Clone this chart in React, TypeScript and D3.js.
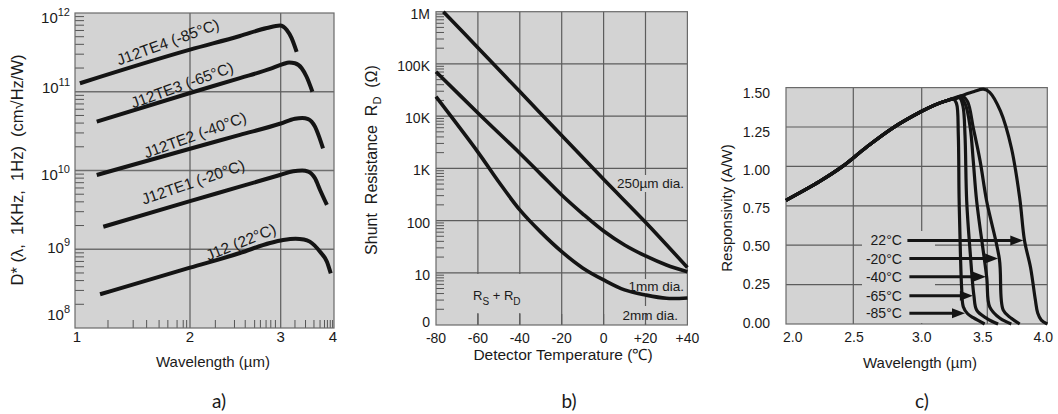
import React from "react";
import * as d3 from "d3";

type P = [number, number];

// ================= DATA =================
// ---- Panel a: D* vs wavelength (log-log) ----
const aXTickValues = [1, 2, 3, 4];
const aXMinorTicks = [
  1.22, 1.42, 1.54, 1.66, 1.75, 1.85, 1.92, 1.96,
  2.24, 2.44, 2.56, 2.67, 2.74, 2.81, 2.87, 2.93,
  3.24, 3.43, 3.59, 3.71, 3.8, 3.86, 3.92, 3.97,
];
const aYDecades = [1e8, 1e9, 1e10, 1e11, 1e12];
const aYExponents = ["8", "9", "10", "11", "12"];
const aSeriesNames = ["J12TE4 (-85°C)", "J12TE3 (-65°C)", "J12TE2 (-40°C)", "J12TE1 (-20°C)", "J12 (22°C)"];
const aJ12TE4: P[] = [[1.03, 1.28e11], [2.0, 3.42e11], [2.5, 5.1e11], [2.82, 6.45e11], [2.99, 6.93e11], [3.1, 6.08e11], [3.18, 4.82e11], [3.27, 3.2e11]];
const aJ12TE3: P[] = [[1.14, 4.17e10], [2.0, 9.64e10], [2.5, 1.49e11], [2.86, 1.95e11], [3.04, 2.25e11], [3.14, 2.35e11], [3.24, 2.3e11], [3.36, 1.99e11], [3.45, 1.55e11], [3.56, 1.0e11]];
const aJ12TE2: P[] = [[1.14, 8.77e9], [2.0, 1.89e10], [2.5, 2.83e10], [3.0, 3.95e10], [3.24, 4.55e10], [3.37, 4.65e10], [3.48, 4.5e10], [3.61, 3.6e10], [3.69, 2.69e10], [3.77, 1.91e10]];
const aJ12TE1: P[] = [[1.186, 1.93e9], [2.0, 4.09e9], [2.5, 6.23e9], [2.99, 8.77e9], [3.21, 9.8e9], [3.37, 1.0e10], [3.48, 9.7e9], [3.61, 7.96e9], [3.71, 5.65e9], [3.85, 3.65e9]];
const aJ12: P[] = [[1.163, 2.68e8], [2.0, 5.83e8], [2.5, 8.96e8], [2.86, 1.2e9], [3.04, 1.31e9], [3.25, 1.36e9], [3.4, 1.33e9], [3.51, 1.25e9], [3.71, 9.3e8], [3.85, 6.95e8], [3.93, 4.95e8]];
const aSeries = [aJ12TE4, aJ12TE3, aJ12TE2, aJ12TE1, aJ12];

// ---- Panel b: shunt resistance vs temperature ----
const bXTickValues = [-80, -60, -40, -20, 0, 20, 40];
const bXTickLabels = ["-80", "-60", "-40", "-20", "0", "+20", "+40"];
const bYTickValues = [1, 10, 100, 1e3, 1e4, 1e5, 1e6];
const bYTickLabels = ["0", "10", "100", "1K", "10K", "100K", "1M"];
const bNames = ["250µm dia.", "1mm dia.", "2mm dia."];
const b250um: P[] = [[-76.5, 1e6], [-60, 2.04e5], [-40, 2.95e4], [-20, 4.27e3], [0, 617], [20, 93], [40, 12.6]];
const b1mm: P[] = [[-80, 7.1e4], [-60, 1.15e4], [-40, 1.95e3], [-30, 776], [-20, 309], [-10, 135], [0, 63], [10, 34], [20, 21], [30, 14.1], [40, 10.5]];
const b2mm: P[] = [[-80, 2.36e4], [-60, 2.05e3], [-50, 548], [-40, 160], [-30, 60], [-20, 25.4], [-10, 12.4], [0, 7.3], [10, 4.7], [20, 3.76], [30, 3.25], [40, 3.3]];
const bSeries = [b250um, b1mm, b2mm];

// ---- Panel c: responsivity vs wavelength ----
const cXTickValues = [2.0, 2.5, 3.0, 3.5, 4.0];
const cXTickLabels = ["2.0", "2.5", "3.0", "3.5", "4.0"];
const cYTickValues = [0, 0.25, 0.5, 0.75, 1.0, 1.25, 1.5];
const cYTickLabels = ["0.00", "0.25", "0.50", "0.75", "1.00", "1.25", "1.50"];
const cRise: P[] = [[2.0, 0.785], [2.25, 0.905], [2.42, 1.0], [2.6, 1.125], [2.79, 1.245], [3.0, 1.35], [3.1, 1.39], [3.2, 1.42]];
const c22: P[] = [[3.3, 1.448], [3.4, 1.475], [3.47, 1.49], [3.52, 1.47], [3.61, 1.35], [3.7, 1.12], [3.77, 0.8], [3.81, 0.53], [3.86, 0.36], [3.9, 0.155], [3.92, 0.07], [3.95, 0.025], [4.0, 0.0]];
const cM20: P[] = [[3.26, 1.432], [3.31, 1.445], [3.35, 1.41], [3.393, 1.245], [3.445, 1.035], [3.495, 0.78], [3.6, 0.415], [3.633, 0.088], [3.7, 0.036], [3.77, 0.0]];
const cM40: P[] = [[3.25, 1.43], [3.29, 1.44], [3.33, 1.4], [3.37, 1.245], [3.393, 1.035], [3.419, 0.78], [3.495, 0.3], [3.52, 0.109], [3.606, 0.036], [3.7, 0.0]];
const cM65: P[] = [[3.25, 1.43], [3.29, 1.435], [3.315, 1.38], [3.33, 1.2], [3.343, 0.78], [3.37, 0.45], [3.398, 0.18], [3.419, 0.088], [3.495, 0.036], [3.59, 0.0]];
const cM85: P[] = [[3.24, 1.428], [3.265, 1.4], [3.279, 1.2], [3.285, 0.8], [3.295, 0.45], [3.305, 0.22], [3.317, 0.11], [3.35, 0.065], [3.393, 0.04], [3.48, 0.0]];
const cTails = [c22, cM20, cM40, cM65, cM85];
const cArrowLabels = ["22°C", "-20°C", "-40°C", "-65°C", "-85°C"];
const cArrowLevel = [0.53, 0.415, 0.3, 0.18, 0.068];
const cArrowTip = [3.8, 3.59, 3.49, 3.39, 3.33];

// ================= LAYOUT / STYLE =================
const FONT = "'Liberation Sans', Arial, Helvetica, sans-serif";
const BG = "#d3d3d3";
const GRID = "#5c5c5c";
const FRAME = "#6a6a6a";
const INK = "#141414";
const TXT = "#1a1a1a";

const aLabelAnchor: P[] = [[1.75, 4.29e11], [1.906, 1.22e11], [2.045, 2.83e10], [2.027, 7.15e9], [2.51, 1.24e9]];
const aLabelAngle = [-20, -20, -20, -19, -22];
const aYLabelNudge = [-8, 4, 9.5, 1.5, 10];

function logMinor(scale: any, majors: number[]) {
  return scale.ticks().filter((v: number) => {
    const l = Math.log10(v);
    return Math.abs(l - Math.round(l)) > 1e-6;
  }).filter((v: number) => !majors.includes(v));
}

function PanelA() {
  const L = 75, R = 334, T = 13, B = 328;
  const x = d3.scaleLog().domain(aXTickValues).range([L, 190, 280.7, R]);
  const y = d3.scaleLog().domain([aYDecades[0], aYDecades[aYDecades.length - 1]]).range([B, T]);
  const line = d3.line<P>().x((d) => x(d[0])).y((d) => y(d[1])).curve(d3.curveMonotoneX);
  const minorY = logMinor(y, aYDecades);
  return (
    <g>
      <rect x={L} y={T} width={R - L} height={B - T} fill={BG} />
      {aYDecades.slice(1, -1).map((v) => (
        <line key={"gy" + v} x1={L} x2={R} y1={y(v)} y2={y(v)} stroke="#6e6e6e" strokeWidth={1.4} />
      ))}
      {aXTickValues.slice(1, -1).map((v) => (
        <line key={"gx" + v} x1={x(v)} x2={x(v)} y1={T} y2={B} stroke={GRID} strokeWidth={1.2} />
      ))}
      {minorY.map((v: number) => (
        <line key={"my" + v} x1={L} x2={L + 9} y1={y(v)} y2={y(v)} stroke="#555" strokeWidth={1} />
      ))}
      {aXMinorTicks.map((v) => (
        <line key={"mx" + v} x1={x(v)} x2={x(v)} y1={B} y2={B - 8} stroke="#555" strokeWidth={1} />
      ))}
      <rect x={L} y={T} width={R - L} height={B - T} fill="none" stroke={FRAME} strokeWidth={1.2} />
      {aSeries.map((s, i) => (
        <path key={"s" + i} d={line(s) || ""} fill="none" stroke={INK} strokeWidth={4} strokeLinecap="butt" />
      ))}
      {aSeriesNames.map((n, i) => {
        const px = x(aLabelAnchor[i][0]);
        const py = y(aLabelAnchor[i][1]);
        return (
          <text key={"n" + i} x={px} y={py} fontSize={15.5} fill={TXT} textAnchor="middle" dominantBaseline="central"
            transform={`rotate(${aLabelAngle[i]},${px},${py})`}>{n}</text>
        );
      })}
      {aYDecades.map((v, i) => (
        <text key={"yl" + v} x={70} y={y(v) + aYLabelNudge[i]} fontSize={15} fill={TXT} textAnchor="end">
          10<tspan dy={-7} fontSize={11}>{aYExponents[i]}</tspan>
        </text>
      ))}
      {aXTickValues.map((v) => (
        <text key={"xl" + v} x={x(v) + (v === 1 ? 2 : v === 4 ? -1 : 0)} y={342} fontSize={15} fill={TXT} textAnchor="middle">{v}</text>
      ))}
      <text x={213} y={367} fontSize={15} fill={TXT} textAnchor="middle">Wavelength (µm)</text>
      <text x={0} y={0} fontSize={16.5} fill={TXT} textAnchor="middle" style={{ whiteSpace: "pre" }}
        transform="translate(23,170) rotate(-90)">D* (λ,  1KHz,  1Hz)  (cm√Hz/W)</text>
      <text x={219} y={408} fontSize={19} fill={TXT} textAnchor="middle" fontFamily="Lato, 'Open Sans', sans-serif">a)</text>
    </g>
  );
}

function PanelB() {
  const L = 436, R = 687.4, T = 11.7, B = 325;
  const x = d3.scaleLinear().domain([bXTickValues[0], bXTickValues[bXTickValues.length - 1]]).range([L, R]);
  const y = d3.scaleLog().domain([bYTickValues[0], bYTickValues[bYTickValues.length - 1]]).range([B, T]);
  const line = d3.line<P>().x((d) => x(d[0])).y((d) => y(d[1])).curve(d3.curveCatmullRom.alpha(0.5));
  const minorY = logMinor(y, bYTickValues);
  const boxes = [
    { x: 617, y: 175, w: 69, h: 17 },
    { x: 629, y: 279, w: 57, h: 15 },
    { x: 622, y: 306, w: 60, h: 17 },
    { x: 440, y: 274, w: 100, h: 39 },
  ];
  return (
    <g>
      <rect x={L} y={T} width={R - L} height={B - T} fill={BG} />
      {bYTickValues.slice(1, -1).map((v) => (
        <line key={"gy" + v} x1={L} x2={R} y1={y(v)} y2={y(v)} stroke={GRID} strokeWidth={1.2} />
      ))}
      {bXTickValues.slice(1, -1).map((v) => (
        <line key={"gx" + v} x1={x(v)} x2={x(v)} y1={T} y2={B} stroke={GRID} strokeWidth={1.2} />
      ))}
      {boxes.map((b, i) => (
        <rect key={"bx" + i} x={b.x} y={b.y} width={b.w} height={b.h} fill={BG} />
      ))}
      {bXTickValues.slice(1, -1).map((v) => (
        <line key={"tx" + v} x1={x(v)} x2={x(v)} y1={B} y2={B - 11} stroke={GRID} strokeWidth={1.2} />
      ))}
      {minorY.map((v: number) => (
        <line key={"my" + v} x1={L} x2={L + 8} y1={y(v)} y2={y(v)} stroke="#555" strokeWidth={1} />
      ))}
      <rect x={L} y={T} width={R - L} height={B - T} fill="none" stroke={FRAME} strokeWidth={1.2} />
      {bSeries.map((s, i) => (
        <path key={"s" + i} d={line(s) || ""} fill="none" stroke={INK} strokeWidth={3.6} />
      ))}
      <text x={684} y={188} fontSize={13.5} fill={TXT} textAnchor="end">{bNames[0]}</text>
      <text x={684} y={291} fontSize={13.5} fill={TXT} textAnchor="end">{bNames[1]}</text>
      <text x={678} y={320} fontSize={13.5} fill={TXT} textAnchor="end">{bNames[2]}</text>
      <text x={473} y={300} fontSize={13} fill={TXT}>
        R<tspan dy={5} fontSize={10}>S</tspan><tspan dy={-5}> + R</tspan><tspan dy={5} fontSize={10}>D</tspan>
      </text>
      {bYTickValues.map((v, i) => (
        <text key={"yl" + v} x={430} y={y(v) + (i === 0 ? 2 : 7)} fontSize={14} fill={TXT} textAnchor="end">{bYTickLabels[i]}</text>
      ))}
      {bXTickValues.map((v, i) => (
        <text key={"xl" + v} x={x(v)} y={343} fontSize={14} fill={TXT} textAnchor="middle">{bXTickLabels[i]}</text>
      ))}
      <text x={563} y={360} fontSize={15.5} fill={TXT} textAnchor="middle">Detector Temperature (℃)</text>
      <text x={0} y={0} fontSize={16} fill={TXT} textAnchor="middle" style={{ whiteSpace: "pre" }}
        transform="translate(377,160) rotate(-90)">
        Shunt  Resistance  R<tspan dy={4} fontSize={11}>D</tspan><tspan dy={-4}>  (Ω)</tspan>
      </text>
      <text x={569} y={408} fontSize={19} fill={TXT} textAnchor="middle" fontFamily="Lato, 'Open Sans', sans-serif">b)</text>
    </g>
  );
}

function PanelC() {
  const L = 786, R = 1047.3, T = 87.6, B = 324;
  const x = d3.scaleLinear().domain(cXTickValues).range([L, 853.3, 921.7, 987.3, R]);
  const y = d3.scaleLinear().domain([0, 1.5]).range([B, T]);
  const xLab = d3.scaleLinear().domain(cXTickValues).range([792.7, 854, 921.7, 982.7, 1043.3]);
  const yLab = d3.scaleLinear().domain([0, 1.5]).range([322.7, 93.3]);
  const line = d3.line<P>().x((d) => x(d[0])).y((d) => y(d[1])).curve(d3.curveCatmullRom.alpha(0.5));
  const arrowStart = 2.91;
  const labelRight = 2.855;
  return (
    <g>
      <rect x={L} y={T} width={R - L} height={B - T} fill={BG} />
      {cYTickValues.slice(1, -1).map((v) => (
        <line key={"gy" + v} x1={L} x2={R} y1={y(v)} y2={y(v)} stroke={GRID} strokeWidth={1.2} />
      ))}
      {cXTickValues.slice(1, -1).map((v) => (
        <line key={"gx" + v} x1={x(v)} x2={x(v)} y1={T} y2={B} stroke={GRID} strokeWidth={1.2} />
      ))}
      <rect x={862} y={231} width={73} height={92} fill={BG} />
      <rect x={L} y={T} width={R - L} height={B - T} fill="none" stroke={FRAME} strokeWidth={1.2} />
      {cTails.map((t, i) => (
        <path key={"s" + i} d={line(cRise.concat(t)) || ""} fill="none" stroke={INK} strokeWidth={3.2} strokeLinejoin="round" />
      ))}
      {cArrowLabels.map((lab, i) => {
        const yy = y(cArrowLevel[i]);
        const tip = x(cArrowTip[i]);
        const x0 = x(arrowStart) + (i === 0 ? -2 : 0);
        return (
          <g key={"a" + i}>
            <line x1={x0} x2={tip - 10} y1={yy} y2={yy} stroke={INK} strokeWidth={3} />
            <path d={`M${tip},${yy} L${tip - 13},${yy - 5} L${tip - 13},${yy + 5} Z`} fill={INK} />
            <text x={x(labelRight)} y={yy + 5} fontSize={14} fill={TXT} textAnchor="end">{lab}</text>
          </g>
        );
      })}
      {cYTickValues.map((v, i) => (
        <text key={"yl" + v} x={770} y={yLab(v) + 5} fontSize={14} fill={TXT} textAnchor="end">{cYTickLabels[i]}</text>
      ))}
      {cXTickValues.map((v, i) => (
        <text key={"xl" + v} x={xLab(v)} y={342} fontSize={14} fill={TXT} textAnchor="middle">{cXTickLabels[i]}</text>
      ))}
      <text x={920} y={368} fontSize={15} fill={TXT} textAnchor="middle">Wavelength (µm)</text>
      <text x={0} y={0} fontSize={15} fill={TXT} textAnchor="middle"
        transform="translate(732,208) rotate(-90)">Responsivity (A/W)</text>
      <text x={922} y={408} fontSize={19} fill={TXT} textAnchor="middle" fontFamily="Lato, 'Open Sans', sans-serif">c)</text>
    </g>
  );
}

export default function App() {
  return (
    <svg width={1058} height={414} style={{ position: "absolute", left: 0, top: 0, background: "#fff" }} fontFamily={FONT}>
      <PanelA />
      <PanelB />
      <PanelC />
    </svg>
  );
}
